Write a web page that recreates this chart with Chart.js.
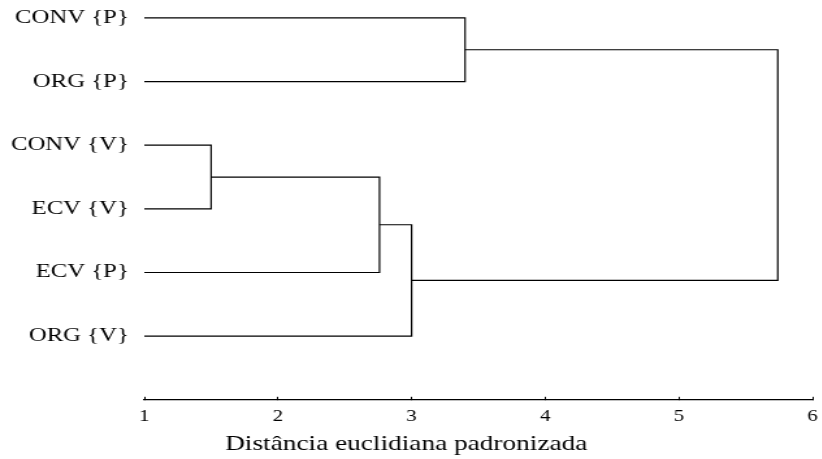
<!DOCTYPE html>
<html>
<head>
<meta charset="utf-8">
<script src="https://cdn.jsdelivr.net/npm/chart.js@4"></script>
<style>
html,body{margin:0;padding:0;background:#fff;overflow:hidden;}
/* the reference text is wide, so the whole chart is drawn narrower and stretched */
#wrap{width:632px;height:459px;transform:scaleX(1.3);transform-origin:0 0;}
</style>
</head>
<body>
<div id="wrap"><canvas id="dendro"></canvas></div>
<script>
const leaves = ['CONV {P}','ORG {P}','CONV {V}','ECV {V}','ECV {P}','ORG {V}'];
// merges, node ids 6.. in order
const mergeLeft = [2, 6, 7, 0, 9];
const mergeRight = [3, 4, 5, 1, 8];
const mergeHeight = [1.50, 2.76, 3.00, 3.40, 5.74];
const xTicks = [1, 2, 3, 4, 5, 6];
const axisTitle = 'Distância euclidiana padronizada';

const nodeX = leaves.map(() => xTicks[0]);
const nodeY = leaves.map((_, i) => i);
const datasets = [];
mergeHeight.forEach((h, k) => {
    const l = mergeLeft[k], r = mergeRight[k];
    datasets.push({
        data: [
            {x: nodeX[l], y: nodeY[l]},
            {x: h, y: nodeY[l]},
            {x: h, y: nodeY[r]},
            {x: nodeX[r], y: nodeY[r]}
        ],
        showLine: true,
        borderColor: '#000',
        borderWidth: 1.2,
        pointRadius: 0,
        tension: 0,
        fill: false
    });
    nodeX.push(h);
    nodeY.push((nodeY[l] + nodeY[r]) / 2);
});

const serif = 'Liberation Serif';
const ctx = document.getElementById('dendro').getContext('2d');
const dendro = new Chart(ctx, {
    type: 'scatter',
    data: {datasets: datasets},
    options: {
        responsive: true,
        maintainAspectRatio: false,
        animation: false,
        layout: {padding: {left: 0, right: 7, top: 2, bottom: 0}},
        plugins: {
            legend: {display: false},
            tooltip: {enabled: false},
            title: {display: true, position: 'bottom', text: axisTitle, color: '#000',
                font: {family: serif, size: 21, weight: 'normal'}, padding: {top: 5, bottom: 2}}
        },
        scales: {
            x: {
                type: 'linear', position: 'bottom', min: xTicks[0], max: xTicks[xTicks.length - 1],
                afterBuildTicks: s => { s.ticks = xTicks.map(v => ({value: v})); },
                afterFit: s => { s.height = 27; s.paddingLeft = 0; s.paddingRight = 0; },
                grid: {drawOnChartArea: false, drawTicks: true, tickLength: -3, color: '#000', lineWidth: 1},
                border: {color: '#000', width: 1.2},
                ticks: {color: '#000', padding: 10.5, font: {family: serif, size: 16}, maxRotation: 0}
            },
            y: {
                type: 'linear', reverse: true, min: -0.25, max: 6,
                afterBuildTicks: s => { s.ticks = leaves.map((_, i) => ({value: i})); },
                afterFit: s => { s.width = 111; s.paddingTop = 0; s.paddingBottom = 0; },
                grid: {display: false, drawTicks: false},
                border: {display: false},
                ticks: {color: '#000', padding: 12, font: {family: serif, size: 19},
                    callback: v => leaves[v]}
            }
        }
    }
});
</script>
</body>
</html>
